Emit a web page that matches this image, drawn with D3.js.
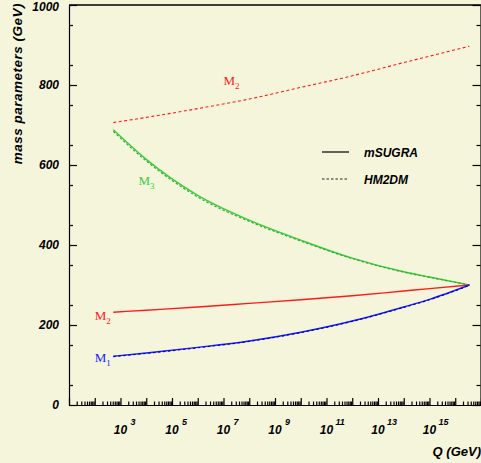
<!DOCTYPE html>
<html>
<head>
<meta charset="utf-8">
<script src="https://cdn.jsdelivr.net/npm/d3@7"></script>
<style>
  body { margin: 0; background: #f5f5dc; }
  svg { display: block; }
  .tick text { font-family: "Liberation Sans", Arial, sans-serif; font-weight: bold; font-style: italic; }
</style>
</head>
<body>
<div id="chart"></div>
<script>
// log10(Q / GeV) sample points along the running
const qExp = [2.72, 4, 6, 8, 10, 12, 14, 15, 16.55];

// mSUGRA (solid)
const m1Sugra = [122, 130, 144, 160, 182, 210, 245, 264, 300];
const m2Sugra = [232, 237, 245, 254, 263, 273, 285, 291, 300];
const m3Sugra = [688, 614, 524, 462, 412, 367, 333, 320, 300];

// HM2DM (dashed)
const m1Hm2dm = [121, 129, 143, 159, 181, 209, 244, 263, 299];
const m2Hm2dm = [706, 719, 741, 765, 794, 823, 856, 872, 897];
const m3Hm2dm = [684, 610, 520, 459, 410, 366, 332, 319, 300];

const yMajor = [0, 200, 400, 600, 800, 1000];
const xLabelExp = [3, 5, 7, 9, 11, 13, 15];

const width = 481, height = 463;
const margin = { left: 69, top: 5, right: 0, bottom: 58 };

const svg = d3.select("#chart").append("svg")
    .attr("width", width)
    .attr("height", height);

svg.append("rect").attr("width", width).attr("height", height).attr("fill", "#f5f5dc");

const x = d3.scaleLog()
    .domain([10, 1e17])
    .range([margin.left, width - margin.right]);
const y = d3.scaleLinear()
    .domain([0, 1000])
    .range([height - margin.bottom, margin.top]);

const fontAxis = '"Liberation Sans", Arial, sans-serif';

// frame (top line)
svg.append("line")
    .attr("x1", x(10)).attr("x2", width)
    .attr("y1", y(1000)).attr("y2", y(1000))
    .attr("stroke", "#000").attr("stroke-width", 1.3);

// x axis: major decade ticks + minor ticks
const decades = d3.range(1, 18).map(e => Math.pow(10, e));
const minors = [];
d3.range(1, 17).forEach(e => {
    for (let k = 2; k <= 9; k++) minors.push(k * Math.pow(10, e));
});

svg.append("g")
    .attr("transform", `translate(0,${y(0)})`)
    .call(d3.axisBottom(x).tickValues(decades).tickSizeInner(-7).tickSizeOuter(0).tickFormat(""));
svg.append("g")
    .attr("transform", `translate(0,${y(0)})`)
    .call(d3.axisBottom(x).tickValues(minors).tickSizeInner(-3.5).tickSizeOuter(0).tickFormat(""))
    .select(".domain").remove();

// x tick labels 10^n
const xl = svg.append("g").attr("font-family", fontAxis)
    .attr("font-weight", "bold").attr("font-style", "italic");
xLabelExp.forEach(e => {
    const px = x(Math.pow(10, e));
    xl.append("text").attr("x", px).attr("y", 434)
        .attr("text-anchor", "middle").attr("font-size", 12).text("10");
    xl.append("text").attr("x", px + (e > 9 ? 9 : 10)).attr("y", 425)
        .attr("font-size", 9).text(e);
});

// y axis (left) with inward ticks
const yAxisG = svg.append("g")
    .attr("transform", `translate(${x(10)},0)`)
    .call(d3.axisLeft(y).tickValues(yMajor).tickSizeInner(-8).tickSizeOuter(0)
        .tickPadding(10).tickFormat(d3.format("d")));
yAxisG.selectAll(".tick text").attr("font-size", 12).attr("fill", "#000")
    .attr("dy", d => d === 1000 ? "0.45em" : "0.32em");
svg.append("g")
    .attr("transform", `translate(${x(10)},0)`)
    .call(d3.axisLeft(y).tickValues(d3.range(50, 1000, 100)).tickSizeInner(-4).tickSizeOuter(0).tickFormat(""))
    .select(".domain").remove();

// y axis (right) mirrored ticks
svg.append("g")
    .attr("transform", `translate(${width - 0.5},0)`)
    .call(d3.axisRight(y).tickValues(yMajor).tickSizeInner(-8).tickSizeOuter(0).tickFormat(""));
svg.append("g")
    .attr("transform", `translate(${width - 0.5},0)`)
    .call(d3.axisRight(y).tickValues(d3.range(50, 1000, 100)).tickSizeInner(-4).tickSizeOuter(0).tickFormat(""))
    .select(".domain").remove();

svg.selectAll(".domain, .tick line").attr("stroke", "#000").attr("stroke-width", 1.2);

// axis titles
svg.append("text")
    .attr("transform", `translate(22,3) rotate(-90)`)
    .attr("text-anchor", "end")
    .attr("font-family", fontAxis).attr("font-weight", "bold").attr("font-style", "italic")
    .attr("font-size", 13.5).attr("letter-spacing", 0.5)
    .text("mass parameters (GeV)");
svg.append("text")
    .attr("x", width).attr("y", 456)
    .attr("text-anchor", "end")
    .attr("font-family", fontAxis).attr("font-weight", "bold").attr("font-style", "italic")
    .attr("font-size", 13)
    .text("Q (GeV)");

// curves
const line = d3.line()
    .x((d, i) => x(Math.pow(10, qExp[i])))
    .y(d => y(d))
    .curve(d3.curveMonotoneX);

const series = [
    { values: m3Sugra, color: "#3ccc3c", dash: null },
    { values: m3Hm2dm, color: "#2faa2f", dash: "2.5,2" },
    { values: m2Sugra, color: "#ff1a1a", dash: null },
    { values: m2Hm2dm, color: "#ff1a1a", dash: "3,2.5" },
    { values: m1Sugra, color: "#1a1aff", dash: null },
    { values: m1Hm2dm, color: "#0000c0", dash: "2.5,2.5" }
];

svg.append("g").selectAll("path")
    .data(series)
    .join("path")
    .attr("d", d => line(d.values))
    .attr("fill", "none")
    .attr("stroke", d => d.color)
    .attr("stroke-width", d => d.dash ? 1.1 : 1.4)
    .attr("stroke-dasharray", d => d.dash);

// curve labels
const labels = [
    { q: 7, v: 800, sub: "2", color: "#ff1a1a" },
    { q: 3.7, v: 550, sub: "3", color: "#3ccc3c" },
    { q: 2, v: 212, sub: "2", color: "#ff1a1a" },
    { q: 2, v: 107, sub: "1", color: "#2020ff" }
];
labels.forEach(l => {
    const t = svg.append("text")
        .attr("x", x(Math.pow(10, l.q))).attr("y", y(l.v))
        .attr("font-family", '"Liberation Serif", "Times New Roman", serif')
        .attr("font-size", 13).attr("fill", l.color);
    t.append("tspan").text("M");
    t.append("tspan").attr("font-size", 9).attr("dy", 4).text(l.sub);
});

// legend
const legend = [
    { label: "mSUGRA", dash: null, yy: 152 },
    { label: "HM2DM", dash: "2.5,2", yy: 179 }
];
legend.forEach(d => {
    svg.append("line")
        .attr("x1", 322).attr("x2", 349).attr("y1", d.yy).attr("y2", d.yy)
        .attr("stroke", "#222").attr("stroke-width", d.dash ? 1 : 1.4)
        .attr("stroke-dasharray", d.dash);
    svg.append("text")
        .attr("x", 364).attr("y", d.yy + 5)
        .attr("font-family", fontAxis).attr("font-weight", "bold").attr("font-style", "italic")
        .attr("font-size", 12)
        .text(d.label);
});
</script>
</body>
</html>
